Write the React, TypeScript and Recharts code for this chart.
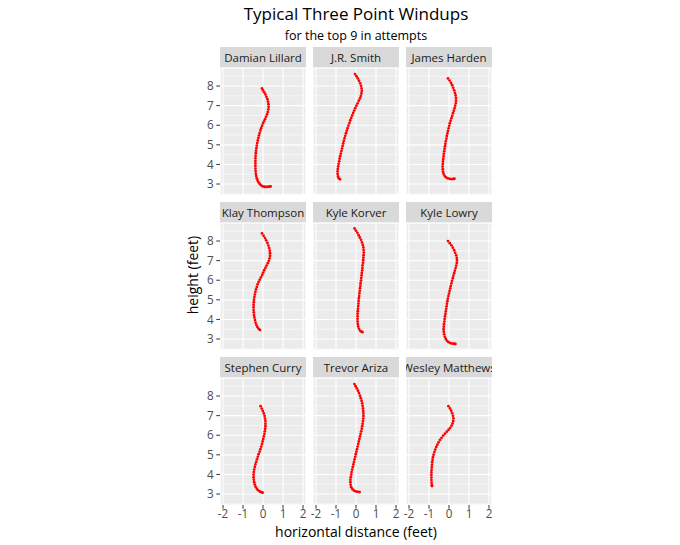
import React from "react";
import { ScatterChart, Scatter, XAxis, YAxis, CartesianGrid } from "recharts";

type Pair = [number, number];

// facet order (row by row)
const PLAYERS = [
  "Damian Lillard",
  "J.R. Smith",
  "James Harden",
  "Klay Thompson",
  "Kyle Korver",
  "Kyle Lowry",
  "Stephen Curry",
  "Trevor Ariza",
  "Wesley Matthews",
];

const X_TICKS = [-2, -1, 0, 1, 2];
const X_MINOR = [-1.5, -0.5, 0.5, 1.5];
const Y_TICKS = [3, 4, 5, 6, 7, 8];
const Y_MINOR = [2.5, 3.5, 4.5, 5.5, 6.5, 7.5, 8.5];
const X_DOMAIN: [number, number] = [-2.15, 2.15];
const Y_DOMAIN: [number, number] = [2.44, 8.92];

// [horizontal distance, height] in feet
const damianLillard: Pair[] = [
  [-0.05, 7.88], [0.0, 7.78], [0.06, 7.68], [0.12, 7.57], [0.17, 7.45], [0.22, 7.33],
  [0.25, 7.2], [0.27, 7.07], [0.28, 6.94], [0.27, 6.81], [0.24, 6.68], [0.2, 6.55],
  [0.15, 6.43], [0.1, 6.31], [0.05, 6.2], [0.0, 6.09], [-0.05, 5.97], [-0.09, 5.85],
  [-0.13, 5.73], [-0.17, 5.6], [-0.2, 5.48], [-0.23, 5.35], [-0.26, 5.22], [-0.29, 5.09],
  [-0.31, 4.96], [-0.33, 4.83], [-0.35, 4.7], [-0.36, 4.57], [-0.37, 4.44], [-0.38, 4.31],
  [-0.38, 4.18], [-0.38, 4.05], [-0.38, 3.92], [-0.38, 3.79], [-0.37, 3.66], [-0.36, 3.53],
  [-0.34, 3.41], [-0.31, 3.29], [-0.27, 3.18], [-0.22, 3.08], [-0.16, 3.0], [-0.09, 2.93],
  [-0.01, 2.88], [0.08, 2.86], [0.17, 2.85], [0.26, 2.86], [0.34, 2.87], [0.38, 2.88],
];

const jrSmith: Pair[] = [
  [-0.05, 8.61], [0.02, 8.5], [0.09, 8.39], [0.15, 8.27], [0.21, 8.14], [0.25, 8.01],
  [0.28, 7.88], [0.29, 7.75], [0.27, 7.62], [0.24, 7.49], [0.2, 7.37], [0.14, 7.25],
  [0.08, 7.12], [0.02, 7.0], [-0.04, 6.87], [-0.09, 6.75], [-0.14, 6.63], [-0.19, 6.5],
  [-0.24, 6.37], [-0.29, 6.24], [-0.33, 6.11], [-0.38, 5.98], [-0.42, 5.85], [-0.46, 5.72],
  [-0.5, 5.59], [-0.54, 5.46], [-0.57, 5.33], [-0.61, 5.2], [-0.64, 5.07], [-0.67, 4.94],
  [-0.7, 4.81], [-0.73, 4.68], [-0.76, 4.55], [-0.79, 4.42], [-0.82, 4.29], [-0.84, 4.16],
  [-0.87, 4.03], [-0.89, 3.9], [-0.91, 3.77], [-0.92, 3.64], [-0.92, 3.51], [-0.9, 3.39],
  [-0.86, 3.3], [-0.8, 3.24],
];

const jamesHarden: Pair[] = [
  [-0.05, 8.39], [0.03, 8.28], [0.1, 8.16], [0.16, 8.04], [0.21, 7.91], [0.26, 7.78],
  [0.3, 7.65], [0.33, 7.52], [0.35, 7.39], [0.35, 7.26], [0.34, 7.13], [0.31, 7.0],
  [0.28, 6.87], [0.24, 6.74], [0.2, 6.61], [0.16, 6.48], [0.12, 6.36], [0.08, 6.23],
  [0.04, 6.1], [0.01, 5.97], [-0.02, 5.84], [-0.05, 5.71], [-0.08, 5.58], [-0.11, 5.45],
  [-0.13, 5.32], [-0.16, 5.19], [-0.18, 5.06], [-0.2, 4.93], [-0.22, 4.8], [-0.24, 4.67],
  [-0.26, 4.54], [-0.27, 4.41], [-0.29, 4.28], [-0.3, 4.15], [-0.31, 4.02], [-0.32, 3.89],
  [-0.31, 3.76], [-0.3, 3.63], [-0.27, 3.52], [-0.22, 3.42], [-0.15, 3.34], [-0.06, 3.29],
  [0.04, 3.26], [0.14, 3.25], [0.22, 3.26], [0.27, 3.27],
];

const klayThompson: Pair[] = [
  [-0.05, 8.39], [0.03, 8.27], [0.1, 8.15], [0.16, 8.03], [0.22, 7.9], [0.27, 7.77],
  [0.31, 7.64], [0.34, 7.51], [0.35, 7.38], [0.35, 7.25], [0.33, 7.12], [0.29, 6.99],
  [0.24, 6.87], [0.18, 6.75], [0.12, 6.63], [0.06, 6.51], [0.01, 6.39], [-0.04, 6.27],
  [-0.1, 6.15], [-0.16, 6.03], [-0.22, 5.91], [-0.27, 5.79], [-0.31, 5.66], [-0.35, 5.53],
  [-0.38, 5.4], [-0.41, 5.27], [-0.43, 5.14], [-0.45, 5.01], [-0.46, 4.88], [-0.47, 4.75],
  [-0.47, 4.62], [-0.47, 4.49], [-0.46, 4.36], [-0.45, 4.23], [-0.43, 4.1], [-0.4, 3.97],
  [-0.37, 3.84], [-0.33, 3.72], [-0.28, 3.61], [-0.22, 3.52], [-0.15, 3.46],
];

const kyleKorver: Pair[] = [
  [-0.07, 8.64], [0.0, 8.53], [0.07, 8.42], [0.13, 8.3], [0.19, 8.18], [0.25, 8.06],
  [0.3, 7.93], [0.34, 7.8], [0.37, 7.67], [0.38, 7.54], [0.39, 7.41], [0.38, 7.28],
  [0.37, 7.15], [0.36, 7.02], [0.35, 6.89], [0.33, 6.76], [0.32, 6.63], [0.31, 6.5],
  [0.29, 6.37], [0.28, 6.24], [0.26, 6.11], [0.25, 5.98], [0.23, 5.85], [0.22, 5.72],
  [0.2, 5.59], [0.19, 5.46], [0.17, 5.33], [0.16, 5.2], [0.14, 5.07], [0.13, 4.94],
  [0.12, 4.81], [0.11, 4.68], [0.1, 4.55], [0.09, 4.42], [0.08, 4.29], [0.08, 4.16],
  [0.08, 4.03], [0.08, 3.9], [0.09, 3.77], [0.11, 3.64], [0.15, 3.52], [0.21, 3.42],
  [0.28, 3.37], [0.32, 3.35],
];

const kyleLowry: Pair[] = [
  [-0.05, 8.0], [0.04, 7.89], [0.12, 7.78], [0.19, 7.66], [0.26, 7.53], [0.31, 7.4],
  [0.36, 7.27], [0.39, 7.14], [0.4, 7.01], [0.39, 6.88], [0.36, 6.75], [0.33, 6.62],
  [0.29, 6.49], [0.26, 6.36], [0.22, 6.23], [0.19, 6.1], [0.15, 5.97], [0.12, 5.84],
  [0.09, 5.71], [0.06, 5.58], [0.03, 5.45], [0.0, 5.32], [-0.03, 5.19], [-0.06, 5.06],
  [-0.08, 4.93], [-0.1, 4.8], [-0.12, 4.67], [-0.14, 4.54], [-0.16, 4.41], [-0.18, 4.28],
  [-0.2, 4.15], [-0.22, 4.02], [-0.23, 3.89], [-0.25, 3.76], [-0.26, 3.63], [-0.27, 3.5],
  [-0.26, 3.37], [-0.24, 3.24], [-0.21, 3.11], [-0.16, 3.0], [-0.1, 2.91], [-0.02, 2.84],
  [0.07, 2.79], [0.16, 2.77], [0.25, 2.76], [0.32, 2.75],
];

const stephenCurry: Pair[] = [
  [-0.12, 7.48], [-0.06, 7.36], [-0.01, 7.24], [0.04, 7.11], [0.08, 6.98], [0.1, 6.85],
  [0.12, 6.72], [0.12, 6.59], [0.12, 6.46], [0.11, 6.33], [0.09, 6.2], [0.07, 6.07],
  [0.04, 5.94], [0.01, 5.81], [-0.02, 5.68], [-0.05, 5.55], [-0.09, 5.42], [-0.13, 5.29],
  [-0.17, 5.16], [-0.22, 5.03], [-0.26, 4.9], [-0.3, 4.77], [-0.34, 4.64], [-0.38, 4.51],
  [-0.41, 4.38], [-0.44, 4.25], [-0.46, 4.12], [-0.47, 3.99], [-0.47, 3.86], [-0.46, 3.73],
  [-0.44, 3.6], [-0.41, 3.48], [-0.37, 3.37], [-0.31, 3.27], [-0.24, 3.19], [-0.16, 3.13],
  [-0.08, 3.09], [-0.02, 3.07],
];

const trevorAriza: Pair[] = [
  [-0.08, 8.61], [-0.02, 8.5], [0.04, 8.39], [0.1, 8.27], [0.15, 8.15], [0.2, 8.02],
  [0.24, 7.89], [0.28, 7.76], [0.31, 7.63], [0.33, 7.5], [0.35, 7.37], [0.36, 7.24],
  [0.37, 7.11], [0.37, 6.98], [0.36, 6.85], [0.35, 6.72], [0.33, 6.59], [0.31, 6.46],
  [0.29, 6.33], [0.26, 6.2], [0.23, 6.07], [0.2, 5.94], [0.17, 5.81], [0.14, 5.68],
  [0.11, 5.55], [0.08, 5.42], [0.05, 5.29], [0.02, 5.16], [-0.01, 5.03], [-0.04, 4.9],
  [-0.07, 4.77], [-0.1, 4.64], [-0.13, 4.51], [-0.16, 4.38], [-0.19, 4.25], [-0.22, 4.12],
  [-0.24, 3.99], [-0.26, 3.86], [-0.28, 3.73], [-0.28, 3.6], [-0.27, 3.47], [-0.24, 3.35],
  [-0.18, 3.25], [-0.1, 3.17], [0.0, 3.13], [0.1, 3.11], [0.18, 3.1],
];

const wesleyMatthews: Pair[] = [
  [-0.03, 7.48], [0.05, 7.37], [0.11, 7.25], [0.16, 7.12], [0.2, 6.99], [0.22, 6.86],
  [0.21, 6.73], [0.18, 6.6], [0.13, 6.49], [0.06, 6.38], [-0.02, 6.28], [-0.11, 6.18],
  [-0.2, 6.08], [-0.29, 5.98], [-0.37, 5.87], [-0.45, 5.76], [-0.52, 5.64], [-0.58, 5.52],
  [-0.64, 5.4], [-0.69, 5.27], [-0.73, 5.14], [-0.77, 5.01], [-0.8, 4.88], [-0.82, 4.75],
  [-0.84, 4.62], [-0.85, 4.49], [-0.86, 4.36], [-0.87, 4.23], [-0.88, 4.1], [-0.88, 3.97],
  [-0.88, 3.84], [-0.88, 3.71], [-0.87, 3.58], [-0.86, 3.45], [-0.85, 3.41],
];

const WINDUPS = [
  damianLillard, jrSmith, jamesHarden,
  klayThompson, kyleKorver, kyleLowry,
  stephenCurry, trevorAriza, wesleyMatthews,
];

const FONT = "'Open Sans', 'Noto Sans', sans-serif";
const COL_LEFT = [220, 313, 406];
const ROW_TOP = [68, 223, 378];
const PANEL_W = 86;
const PANEL_H = 127;
const STRIP_H = 21;
const Y_AXIS_W = 30;
const X_AXIS_H = 24;

const tickText = { fill: "#4D4D4D", fontSize: 11.7 };
const tickLine = { stroke: "#333333", strokeWidth: 1 };

const Dot = (props: any) => (
  <circle cx={props.cx} cy={props.cy} r={1.4} fill="#FF0000" />
);

function Panel({ index }: { index: number }) {
  const row = Math.floor(index / 3);
  const col = index % 3;
  const showY = col === 0;
  const showX = row === 2;
  const data = WINDUPS[index].map(([x, y]) => ({ x, y }));
  const left = COL_LEFT[col];
  const top = ROW_TOP[row];

  return (
    <>
      <div
        style={{
          position: "absolute",
          left,
          top: top - STRIP_H,
          width: PANEL_W,
          height: STRIP_H,
          background: "#D9D9D9",
          color: "#1A1A1A",
          fontSize: 11.5,
          display: "flex",
          alignItems: "center",
          justifyContent: "center",
          overflow: "hidden",
          whiteSpace: "nowrap",
        }}
      >
        {PLAYERS[index]}
      </div>
      <div style={{ position: "absolute", left: left - (showY ? Y_AXIS_W : 0), top }}>
        <ScatterChart
          width={PANEL_W + (showY ? Y_AXIS_W : 0)}
          height={PANEL_H + (showX ? X_AXIS_H : 0)}
          margin={{ top: 0, right: 0, bottom: 0, left: 0 }}
        >
          <XAxis
            type="number"
            dataKey="x"
            domain={X_DOMAIN}
            allowDataOverflow
            ticks={X_TICKS}
            interval={0}
            hide={!showX}
            height={X_AXIS_H}
            axisLine={false}
            tickLine={tickLine}
            tickSize={3.7}
            tickMargin={1}
            tick={tickText}
          />
          <YAxis
            type="number"
            dataKey="y"
            domain={Y_DOMAIN}
            allowDataOverflow
            ticks={Y_TICKS}
            interval={0}
            hide={!showY}
            width={Y_AXIS_W}
            axisLine={false}
            tickLine={tickLine}
            tickSize={3.7}
            tickMargin={2.5}
            tick={tickText}
          />
          <XAxis xAxisId="minor" type="number" domain={X_DOMAIN} allowDataOverflow ticks={X_MINOR} interval={0} hide />
          <YAxis yAxisId="minor" type="number" domain={Y_DOMAIN} allowDataOverflow ticks={Y_MINOR} interval={0} hide />
          <CartesianGrid xAxisId="minor" yAxisId="minor" fill="#EBEBEB" fillOpacity={1} stroke="#FFFFFF" strokeWidth={0.55} />
          <CartesianGrid stroke="#FFFFFF" strokeWidth={1.1} />
          <Scatter data={data} shape={Dot} isAnimationActive={false} />
        </ScatterChart>
      </div>
    </>
  );
}

export default function App() {
  return (
    <div
      style={{
        position: "absolute",
        left: 0,
        top: 0,
        width: 680,
        height: 545,
        background: "#FFFFFF",
        fontFamily: FONT,
      }}
    >
      <style>{`.recharts-surface { overflow: visible; } .recharts-wrapper { overflow: visible; }`}</style>
      <svg width={680} height={545} style={{ position: "absolute", left: 0, top: 0 }}>
        <text x={356} y={20} textAnchor="middle" fontSize={17} fill="#000000">
          Typical Three Point Windups
        </text>
        <text x={356} y={40} textAnchor="middle" fontSize={12.5} fill="#000000">
          for the top 9 in attempts
        </text>
        <text
          x={0}
          y={0}
          transform="translate(198 275) rotate(-90)"
          textAnchor="middle"
          fontSize={14}
          fill="#000000"
        >
          height (feet)
        </text>
        <text x={356} y={537} textAnchor="middle" fontSize={14} fill="#000000">
          horizontal distance (feet)
        </text>
      </svg>
      {PLAYERS.map((_, i) => (
        <Panel key={i} index={i} />
      ))}
    </div>
  );
}
